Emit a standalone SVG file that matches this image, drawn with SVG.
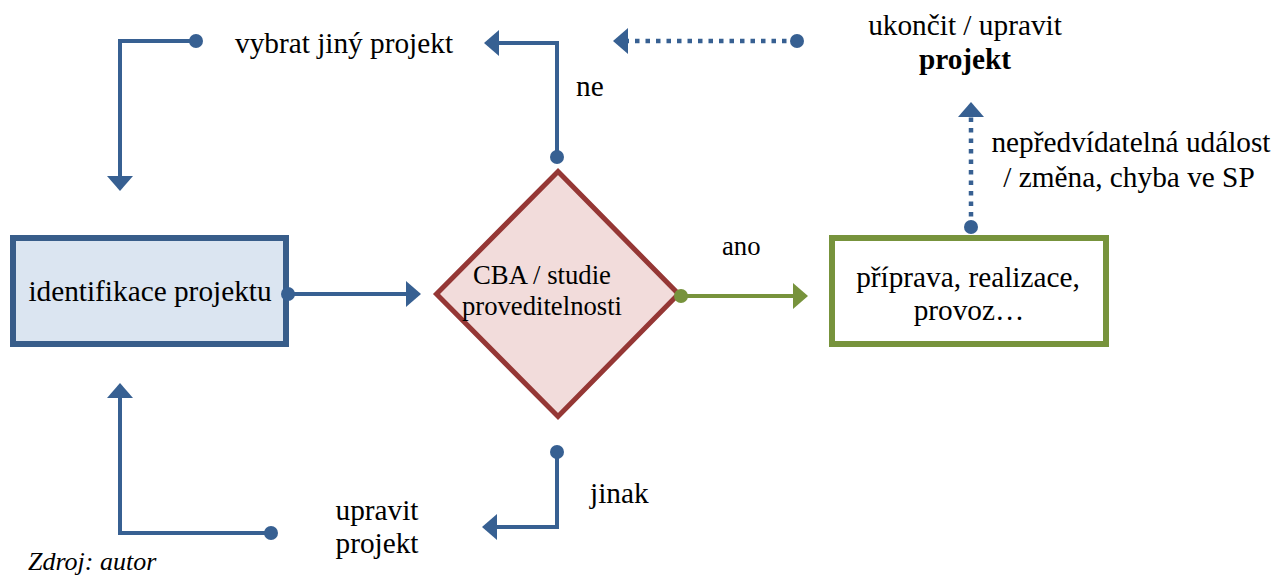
<svg xmlns="http://www.w3.org/2000/svg" width="1274" height="576" viewBox="0 0 1274 576" font-family="'Liberation Serif', 'DejaVu Serif', 'Times New Roman', serif">
<style>
text{font-family:"Liberation Serif","DejaVu Serif","Times New Roman",serif;fill:#000}
.t{font-size:29.3px}
.s{font-size:26.7px}
.c{text-anchor:middle}
.line{fill:none;stroke:#376092;stroke-width:4;stroke-linecap:butt;stroke-linejoin:miter}
.green{stroke:#77933c}
.dot{stroke-dasharray:4.5 6;stroke-width:4.5}
</style>
<defs>
<marker id="arB" markerUnits="userSpaceOnUse" markerWidth="16" markerHeight="27" refX="1" refY="13" orient="auto" overflow="visible"><path d="M0,0 L15,13 L0,26 Z" fill="#376092"/></marker>
<marker id="arG" markerUnits="userSpaceOnUse" markerWidth="16" markerHeight="27" refX="1" refY="13" orient="auto" overflow="visible"><path d="M0,0 L15,13 L0,26 Z" fill="#77933c"/></marker>
<marker id="dB" markerUnits="userSpaceOnUse" markerWidth="16" markerHeight="16" refX="8" refY="8" overflow="visible"><circle cx="8" cy="8" r="7" fill="#376092"/></marker>
<marker id="dG" markerUnits="userSpaceOnUse" markerWidth="16" markerHeight="16" refX="8" refY="8" overflow="visible"><circle cx="8" cy="8" r="7" fill="#77933c"/></marker>
</defs>
<rect width="1274" height="576" fill="#fff"/>
<g id="identifikace">
<rect x="13" y="238" width="273" height="106" fill="#dbe5f1" stroke="#385d8a" stroke-width="6"/>
<text class="t c" x="150" y="301">identifikace projektu</text>
</g>
<g id="cba">
<polygon points="558,171.5 678.5,294 558,416.5 436.5,294" fill="#f2dcdb" stroke="#953735" stroke-width="5"/>
<text class="s c" x="542" y="284">CBA / studie</text>
<text class="s c" x="542" y="315">proveditelnosti</text>
</g>
<g id="realizace">
<rect x="832" y="238" width="274" height="106" fill="#fff" stroke="#77933c" stroke-width="6"/>
<text class="t c" x="968" y="287">příprava, realizace,</text>
<text class="t c" x="969" y="320">provoz…</text>
</g>
<g id="vybrat">
<text class="t" x="235" y="53">vybrat jiný projekt</text>
</g>
<g id="ukoncit">
<text class="t c" x="965" y="35">ukončit / upravit</text>
<text class="t c" x="965" y="69" font-weight="bold">projekt</text>
</g>
<g id="upravit">
<text class="t c" x="377" y="520">upravit</text>
<text class="t c" x="377" y="553">projekt</text>
</g>
<g id="connectors">
<path class="line" d="M288,294 H407" marker-start="url(#dB)" marker-end="url(#arB)"/>
<path class="line green" d="M681,296 H794" marker-start="url(#dG)" marker-end="url(#arG)"/>
<path class="line" d="M557,157 V43 H498" marker-start="url(#dB)" marker-end="url(#arB)"/>
<path class="line dot" d="M797,41 H627" marker-start="url(#dB)" marker-end="url(#arB)"/>
<path class="line dot" d="M971,227 V116" marker-start="url(#dB)" marker-end="url(#arB)"/>
<path class="line" d="M196,41 H120 V177" marker-start="url(#dB)" marker-end="url(#arB)"/>
<path class="line" d="M557,452 V527 H496" marker-start="url(#dB)" marker-end="url(#arB)"/>
<path class="line" d="M271,533 H120 V397" marker-start="url(#dB)" marker-end="url(#arB)"/>
<text class="t" x="576" y="96">ne</text>
<text class="s" x="722" y="255">ano</text>
<text class="t" x="590" y="503">jinak</text>
<text class="t c" x="1131" y="152">nepředvídatelná událost</text>
<text class="t c" x="1129" y="187">/ změna, chyba ve SP</text>
</g>
<text x="28" y="570" font-size="26" font-style="italic">Zdroj: autor</text>
</svg>
